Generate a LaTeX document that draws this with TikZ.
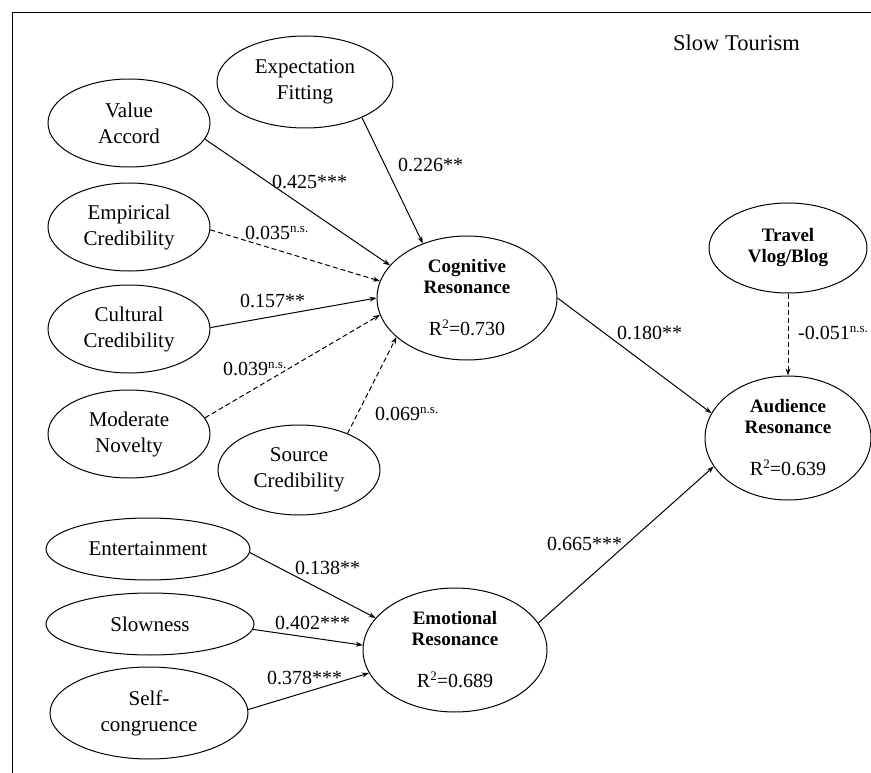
\documentclass[tikz,border=0pt]{standalone}
\usepackage{fontspec}
\setmainfont{Liberation Serif}
\usetikzlibrary{shapes.geometric,arrows.meta}
\newcommand{\nsup}{\raisebox{7pt}{\fontsize{13}{13}\selectfont n.s.}}
\newcommand{\rsq}{R\raisebox{7pt}{\fontsize{13}{13}\selectfont 2}}
\begin{document}
\begin{tikzpicture}[x=1pt,y=-1pt,
  lat/.style={ellipse,draw,line width=1pt,inner sep=0pt,align=center,font=\fontsize{21}{26}\selectfont},
  endo/.style={lat,font=\fontsize{19}{21}\selectfont\bfseries},
  pth/.style={line width=1pt,-{Stealth[length=7pt,width=5pt]}},
  nsp/.style={pth,dash pattern=on 5pt off 3pt},
  coef/.style={font=\fontsize{20}{24}\selectfont,inner sep=0pt,anchor=base west}]
\useasboundingbox (0,0) rectangle (871,773);
\draw[line width=0.9pt] (12,773) -- (12,12) -- (871,12);

\node[coef,font=\fontsize{22.5}{26}\selectfont] (title) at (673,51) {Slow Tourism};

\node[lat,minimum width=176pt,minimum height=92pt] (ef) at (305,82) {Expectation\\Fitting};
\node[lat,minimum width=162pt,minimum height=88pt] (va) at (129,123) {Value\\Accord};
\node[lat,minimum width=162pt,minimum height=88pt] (ec) at (129,227) {Empirical\\Credibility};
\node[lat,minimum width=162pt,minimum height=88pt] (cc) at (129,329) {Cultural\\Credibility};
\node[lat,minimum width=162pt,minimum height=88pt] (mn) at (129,434) {Moderate\\Novelty};
\node[lat,minimum width=162pt,minimum height=90pt] (sc) at (299,470) {Source\\Credibility};
\node[endo,minimum width=180pt,minimum height=124pt] (cog) at (467,298) {Cognitive\\Resonance\\[21pt]{\mdseries\fontsize{20}{20}\selectfont\rsq=0.730}};
\node[endo,minimum width=158pt,minimum height=90pt] (tv) at (788,248) {Travel\\Vlog/Blog};
\node[endo,minimum width=166pt,minimum height=124pt] (ar) at (788,438) {Audience\\Resonance\\[21pt]{\mdseries\fontsize{20}{20}\selectfont\rsq=0.639}};
\node[endo,minimum width=184pt,minimum height=124pt] (emo) at (455,650) {Emotional\\Resonance\\[21pt]{\mdseries\fontsize{20}{20}\selectfont\rsq=0.689}};
\node[lat,minimum width=204pt,minimum height=62pt] (ent) at (148,549) {Entertainment};
\node[lat,minimum width=208pt,minimum height=62pt] (slo) at (150,624) {Slowness};
\node[lat,minimum width=198pt,minimum height=92pt] (self) at (149,713) {Self-\\congruence};

\draw[pth] (ef.-32) -- (cog.129);
\draw[pth] (va.-12) -- (cog.157);
\draw[nsp] (ec.-2) -- (cog.169);
\draw[pth] (cc.1) -- (cog.180);
\draw[nsp] (mn.12) -- (cog.191);
\draw[nsp] (sc.37) -- (cog.209);
\draw[pth] (cog.0) -- (ar.162);
\draw[nsp] (tv.south) -- (ar.north);
\draw[pth] (emo.18) -- (ar.201);
\draw[pth] (ent.-2) -- (emo.158);
\draw[pth] (slo.-3) -- (emo.177);
\draw[pth] (self.2) -- (emo.195);

\node[coef] (l1) at (398,172) {0.226**};
\node[coef] (l2) at (272,189) {0.425***};
\node[coef] (l3) at (245,240) {0.035\nsup};
\node[coef] (l4) at (240,307) {0.157**};
\node[coef] (l5) at (223,375) {0.039\nsup};
\node[coef] (l6) at (375,420) {0.069\nsup};
\node[coef] (l7) at (617,339) {0.180**};
\node[coef] (l8) at (798,339) {-0.051\nsup};
\node[coef] (l9) at (547,550) {0.665***};
\node[coef] (l10) at (295,574) {0.138**};
\node[coef] (l11) at (275,629) {0.402***};
\node[coef] (l12) at (267,684) {0.378***};
\end{tikzpicture}
\end{document}
